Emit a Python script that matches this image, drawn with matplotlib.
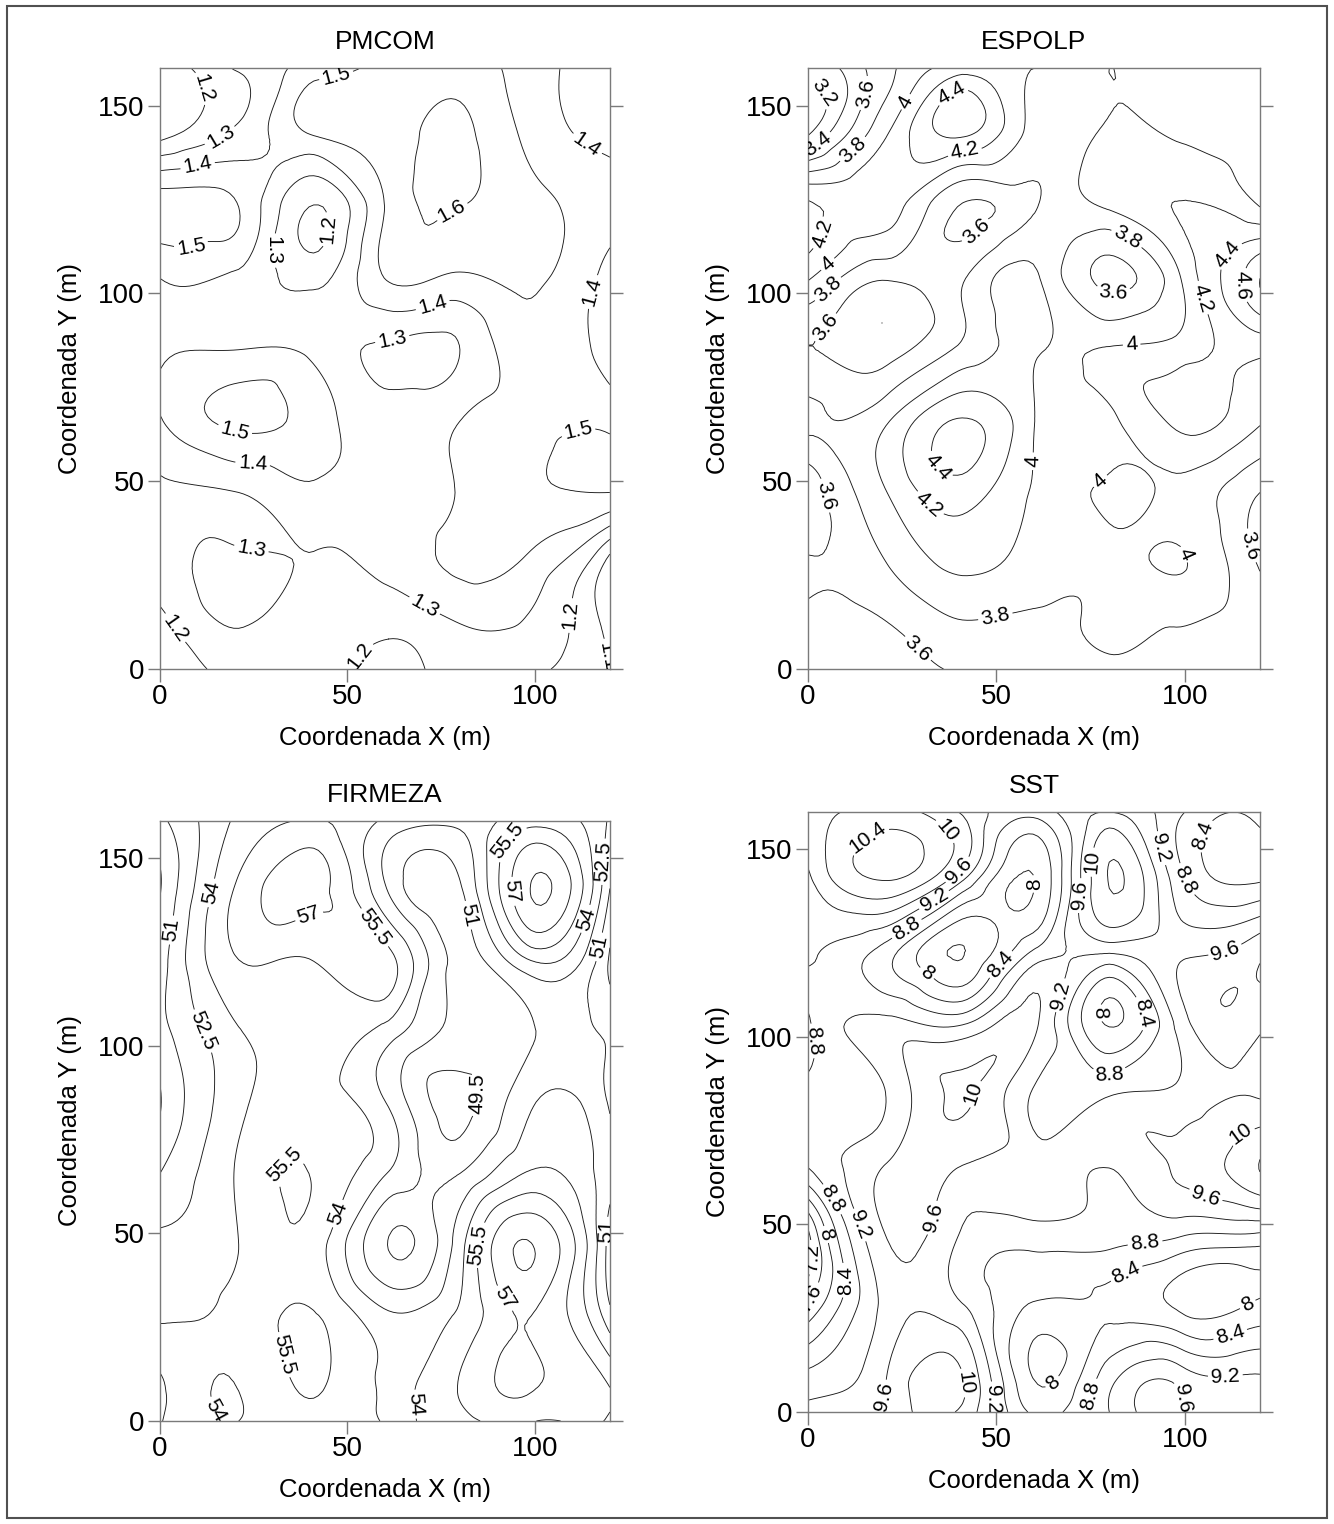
import numpy as np
import matplotlib.pyplot as plt
import matplotlib.tri as mtri
from matplotlib.patches import Rectangle

plt.rcParams['font.family'] = ['Liberation Sans', 'DejaVu Sans']

# sampling grid (m), values read at the nodes of each map
x_nodes = [0, 21, 41, 61, 80, 99, 120]
y_nodes = [160, 142, 123, 104, 85, 66, 47, 28, 8, 0]

pmcom = [
    [1.17, 1.31, 1.45, 1.53, 1.55, 1.45, 1.33],
    [1.17, 1.33, 1.50, 1.56, 1.62, 1.47, 1.37],
    [1.55, 1.50, 1.195, 1.52, 1.60, 1.54, 1.44],
    [1.40, 1.37, 1.27, 1.51, 1.48, 1.52, 1.36],
    [1.38, 1.40, 1.37, 1.28, 1.30, 1.45, 1.36],
    [1.39, 1.52, 1.45, 1.36, 1.40, 1.46, 1.47],
    [1.28, 1.30, 1.38, 1.35, 1.41, 1.49, 1.50],
    [1.25, 1.33, 1.29, 1.33, 1.42, 1.37, 1.05],
    [1.15, 1.28, 1.25, 1.20, 1.27, 1.26, 1.08],
    [1.13, 1.23, 1.24, 1.17, 1.25, 1.22, 1.10],
]

espolp = [
    [3.35, 3.75, 4.10, 4.00, 4.00, 3.92, 3.90],
    [3.20, 4.00, 4.42, 3.90, 4.05, 3.97, 3.90],
    [4.25, 4.10, 3.58, 3.80, 4.03, 4.21, 4.00],
    [4.02, 3.62, 3.78, 4.02, 3.55, 4.00, 4.80],
    [3.60, 3.50, 3.85, 4.02, 4.02, 4.10, 4.25],
    [3.85, 3.98, 4.42, 3.97, 3.95, 4.25, 4.02],
    [3.45, 4.00, 4.30, 3.97, 4.03, 3.95, 3.60],
    [3.62, 3.80, 4.05, 3.90, 3.90, 4.01, 3.58],
    [3.50, 3.55, 3.72, 3.72, 3.83, 3.75, 3.70],
    [3.45, 3.50, 3.62, 3.65, 3.75, 3.70, 3.70],
]

firmeza = [
    [50.7, 54.3, 55.6, 53.6, 53.0, 54.8, 52.3],
    [49.4, 55.8, 57.6, 52.3, 50.8, 58.55, 51.0],
    [50.3, 55.5, 55.55, 56.0, 50.5, 54.1, 49.3],
    [50.5, 53.9, 54.8, 53.3, 50.5, 50.9, 50.8],
    [49.4, 53.6, 54.8, 52.3, 49.0, 52.3, 50.8],
    [51.0, 54.2, 55.4, 52.4, 51.0, 54.2, 51.5],
    [52.9, 54.0, 54.8, 49.45, 53.4, 58.55, 50.3],
    [53.8, 54.5, 55.6, 52.8, 54.3, 57.0, 51.5],
    [55.8, 54.0, 55.6, 53.8, 55.6, 57.05, 55.6],
    [55.6, 54.0, 55.0, 53.9, 55.0, 55.6, 55.3],
]

sst = [
    [9.80, 10.10, 9.55, 9.00, 9.60, 8.85, 8.60],
    [9.50, 10.42, 9.25, 8.05, 10.42, 8.90, 8.35],
    [9.30, 8.60, 7.58, 8.90, 9.30, 9.50, 9.90],
    [8.75, 9.30, 9.10, 9.62, 7.95, 9.40, 9.70],
    [8.95, 9.22, 10.05, 9.10, 9.15, 9.30, 9.55],
    [8.85, 9.62, 9.61, 9.40, 9.22, 9.70, 10.42],
    [7.10, 9.62, 9.15, 9.00, 8.95, 8.82, 8.70],
    [7.70, 9.35, 9.25, 8.32, 8.30, 7.92, 8.10],
    [9.00, 9.62, 10.05, 7.98, 9.10, 9.50, 9.30],
    [9.30, 9.70, 9.90, 8.30, 9.20, 9.60, 9.35],
]

titles = ['PMCOM', 'ESPOLP', 'FIRMEZA', 'SST']
fields = [pmcom, espolp, firmeza, sst]
level_sets = [
    [1.0, 1.1, 1.2, 1.3, 1.4, 1.5, 1.6, 1.7],
    [3.0, 3.2, 3.4, 3.6, 3.8, 4.0, 4.2, 4.4, 4.6, 4.8, 5.0],
    [48.0, 49.5, 51.0, 52.5, 54.0, 55.5, 57.0, 58.5, 60.0],
    [6.8, 7.2, 7.6, 8.0, 8.4, 8.8, 9.2, 9.6, 10.0, 10.4, 10.8],
]

# axes boxes in figure fractions (left, bottom, width, height)
boxes = [
    [0.1199, 0.5610, 0.3373, 0.3944],
    [0.6057, 0.5610, 0.3388, 0.3944],
    [0.1199, 0.0676, 0.3373, 0.3937],
    [0.6057, 0.0735, 0.3388, 0.3937],
]

fig = plt.figure(figsize=(13.34, 15.24), dpi=100)
fig.patches.append(Rectangle((0.005, 0.004), 0.99, 0.992, transform=fig.transFigure,
                             fill=False, edgecolor='#505050', linewidth=1.5))

X, Y = np.meshgrid(x_nodes, y_nodes)
tri = mtri.Triangulation(X.ravel(), Y.ravel())
refiner = mtri.UniformTriRefiner(tri)

spine_col = '#7a7a7a'
for box, title, field, levels in zip(boxes, titles, fields, level_sets):
    ax = fig.add_axes(box)
    z = np.array(field, dtype=float).ravel()
    interp = mtri.CubicTriInterpolator(tri, z, kind='min_E')
    tri_f, z_f = refiner.refine_field(z, triinterpolator=interp, subdiv=4)
    cs = ax.tricontour(tri_f, z_f, levels=levels, colors='#1a1a1a', linewidths=0.65)
    ax.clabel(cs, fmt=lambda v: f'{v:g}', fontsize=15, inline=True, inline_spacing=3,
              colors='black')

    ax.set_xlim(0, 120)
    ax.set_ylim(0, 160)
    ax.set_xticks([0, 50, 100])
    ax.set_yticks([0, 50, 100, 150])
    for s in ax.spines.values():
        s.set_color(spine_col)
        s.set_linewidth(1.0)
    ax.tick_params(direction='out', length=9, width=1.0, color=spine_col,
                   right=True, labelsize=20, pad=2)
    ax.set_title(title, fontsize=19, pad=14)
    ax.set_xlabel('Coordenada X (m)', fontsize=18.5, labelpad=11)
    ax.set_ylabel('Coordenada Y (m)', fontsize=18.5, labelpad=12)

fig.savefig('out.png', dpi=100)
